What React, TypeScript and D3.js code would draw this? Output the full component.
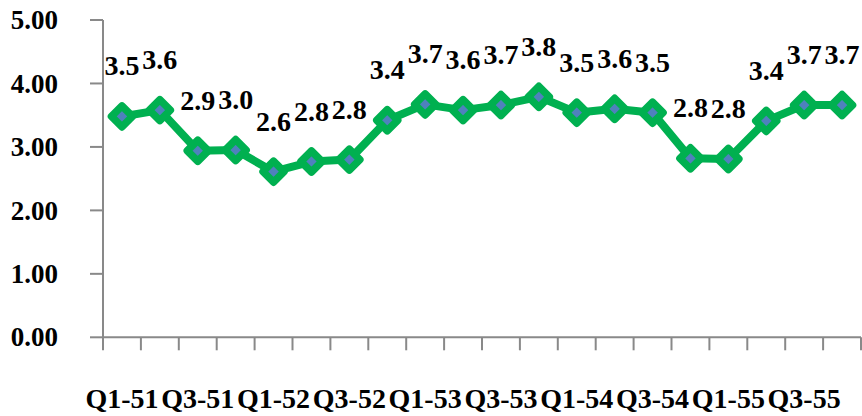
import React from "react";
import * as d3 from "d3";

const categories = [
  "Q1-51", "Q2-51", "Q3-51", "Q4-51",
  "Q1-52", "Q2-52", "Q3-52", "Q4-52",
  "Q1-53", "Q2-53", "Q3-53", "Q4-53",
  "Q1-54", "Q2-54", "Q3-54", "Q4-54",
  "Q1-55", "Q2-55", "Q3-55", "Q4-55",
];
const values = [3.48, 3.58, 2.94, 2.95, 2.61, 2.77, 2.8, 3.42, 3.67, 3.58, 3.66, 3.79, 3.54, 3.6, 3.54, 2.82, 2.81, 3.41, 3.66, 3.66];
const yTicks = [0, 1, 2, 3, 4, 5];

const W = 862;
const H = 416;
const FONT = "Liberation Serif";

export default function App() {
  const x = d3.scaleBand<string>().domain(categories).range([103, 861]).padding(0);
  const y = d3.scaleLinear().domain([0, 5]).range([337.3, 20]);
  const cx = (c: string) => (x(c) as number) + x.bandwidth() / 2;
  const line = d3
    .line<number>()
    .x((_, i) => cx(categories[i]))
    .y((v) => y(v));
  const h = 10.5;
  const diamond = `M0,${-h}L${h},0L0,${h}L${-h},0Z`;
  const axisColor = "#898989";
  const boundaries = categories.map((c) => x(c) as number).concat([x.range()[1]]);
  const txt = (size: number) => ({ fontFamily: FONT, fontWeight: 700, fontSize: size });

  return (
    <svg width={W} height={H} style={{ position: "absolute", left: 0, top: 0, background: "#fff" }}>
      {/* y axis */}
      <line x1={103} x2={103} y1={y(5)} y2={y(0)} stroke={axisColor} strokeWidth={2} />
      {yTicks.map((t) => (
        <g key={t}>
          <line x1={90} x2={103} y1={y(t)} y2={y(t)} stroke={axisColor} strokeWidth={2} />
          <text x={58} y={y(t)} dy="0.34em" textAnchor="end" style={txt(27)} fill="#000">
            {t.toFixed(2)}
          </text>
        </g>
      ))}
      {/* x axis */}
      <line x1={103} x2={861} y1={y(0)} y2={y(0)} stroke={axisColor} strokeWidth={2} />
      {boundaries.map((b, i) => (
        <line key={i} x1={b} x2={b} y1={y(0)} y2={y(0) + 13} stroke={axisColor} strokeWidth={2} />
      ))}
      {categories.map((c, i) =>
        i % 2 === 0 ? (
          <text key={c} x={cx(c)} y={408} textAnchor="middle" style={txt(28)} fill="#000">
            {c}
          </text>
        ) : null
      )}
      {/* line */}
      <path d={line(values) || ""} fill="none" stroke="#00B050" strokeWidth={8} strokeLinejoin="round" />
      {values.map((v, i) => (
        <path
          key={i}
          d={diamond}
          transform={`translate(${cx(categories[i])},${y(v)})`}
          fill="#4F81BD"
          stroke="#00B050"
          strokeWidth={7.5}
          strokeLinejoin="round"
        />
      ))}
      {values.map((v, i) => (
        <text key={"l" + i} x={cx(categories[i])} y={y(v) - 41} textAnchor="middle" style={txt(28)} fill="#000">
          {v.toFixed(1)}
        </text>
      ))}
    </svg>
  );
}
